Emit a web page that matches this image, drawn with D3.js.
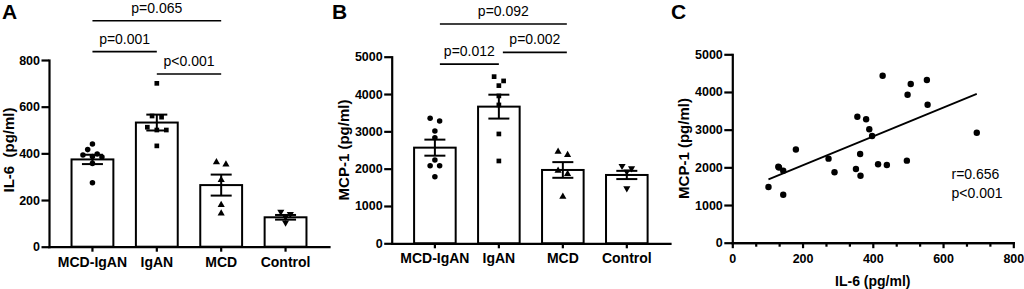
<!DOCTYPE html>
<html>
<head>
<meta charset="utf-8">
<script src="https://cdn.jsdelivr.net/npm/d3@7"></script>
<style>
  body { margin: 0; background: #fff; }
  svg { display: block; font-family: "Liberation Sans", Arial, Helvetica, sans-serif; }
</style>
</head>
<body>
<svg id="chart" width="1024" height="289"></svg>
<script>
const groups = ['MCD-IgAN', 'IgAN', 'MCD', 'Control'];
const markerShapes = ['circle', 'square', 'triangle', 'triangleDown'];

// Panel A - IL-6 (pg/ml)
const il6Points = [
  [440, 416, 397, 393, 386, 384, 357, 274],
  [700, 560, 555, 512, 500, 500, 432],
  [362, 353, 286, 179, 143],
  [150, 140, 128, 103]
];
const il6Mean = [374, 532, 264, 126];
const il6Sem = [20, 34, 45, 10];
const il6Ticks = [0, 200, 400, 600, 800];
const il6Pairs = [[0, 2], [0, 1], [1, 2]];
const il6PLabels = ['p=0.065', 'p=0.001', 'p<0.001'];

// Panel B - MCP-1 (pg/ml)
const mcpPoints = [
  [3351, 3279, 3011, 2831, 2233, 2080, 2080, 1786],
  [4466, 4351, 4225, 3949, 3708, 2930, 2206],
  [2456, 2367, 1946, 1858, 1249],
  [2072, 2010, 1920, 1474]
];
const mcpMean = [2563, 3662, 1965, 1831];
const mcpSem = [215, 320, 210, 110];
const mcpTicks = [0, 1000, 2000, 3000, 4000, 5000];
const mcpPairs = [[0, 2], [0, 1], [1, 2]];
const mcpPLabels = ['p=0.092', 'p=0.012', 'p=0.002'];

// Panel C - correlation
const corrIl6 = [428, 508, 554, 499, 556, 356, 381, 390, 398, 696, 181, 274,
                 131, 133, 145, 364, 291, 352, 365, 415, 440, 497, 103, 145];
const corrMcp = [4432, 4212, 4318, 3928, 3662, 3344, 3275, 3010, 2832, 2919, 2474, 2230,
                 2017, 1995, 1911, 2354, 1868, 1956, 1778, 2081, 2062, 2177, 1478, 1274];
const fitIl6 = [103, 696];
const fitMcp = [1680, 3950];
const corrXTicks = [0, 200, 400, 600, 800];
const corrYTicks = [0, 1000, 2000, 3000, 4000, 5000];
const corrStats = ['r=0.656', 'p<0.001'];

const svg = d3.select('#chart');
const black = '#000';
const plain = d3.format('d');

function symbolPath(shape, size) {
  const type = { circle: d3.symbolCircle, square: d3.symbolSquare,
                 triangle: d3.symbolTriangle, triangleDown: d3.symbolTriangle }[shape];
  return d3.symbol().type(type).size(size)();
}

// spread points with similar values side by side
function swarm(vals, y, step) {
  const items = vals.map(v => ({ v, py: y(v) })).sort((a, b) => a.py - b.py);
  const rows = [];
  items.forEach(it => {
    const row = rows[rows.length - 1];
    if (row && it.py - row[0].py < 4.5) row.push(it);
    else rows.push([it]);
  });
  rows.forEach(row => row.forEach((it, k) => { it.dx = (k - (row.length - 1) / 2) * step; }));
  return items;
}

function styleAxis(g, fontSize) {
  g.select('.domain').attr('stroke', black).attr('stroke-width', 2.2).attr('stroke-linecap', 'square');
  g.selectAll('.tick line').attr('stroke', black).attr('stroke-width', 2.2);
  g.selectAll('.tick text')
    .attr('fill', black)
    .style('font-size', fontSize + 'px')
    .style('font-weight', 'bold');
}

function barPanel(opt) {
  const x = d3.scaleBand().domain(groups).range(opt.xRange).paddingInner(0.35).paddingOuter(0.35);
  const y = d3.scaleLinear().domain(opt.yDomain).range(opt.yRange);
  const g = svg.append('g');

  // bars
  g.selectAll('.bar')
    .data(groups)
    .enter()
    .append('rect')
    .attr('x', d => x(d))
    .attr('y', (d, i) => y(opt.mean[i]))
    .attr('width', x.bandwidth())
    .attr('height', (d, i) => y(0) - y(opt.mean[i]))
    .attr('fill', '#fff')
    .attr('stroke', black)
    .attr('stroke-width', 2);

  // error bars (mean +/- SEM)
  groups.forEach((grp, i) => {
    const cx = x(grp) + x.bandwidth() / 2;
    const lo = y(opt.mean[i] - opt.sem[i]);
    const hi = y(opt.mean[i] + opt.sem[i]);
    const eg = g.append('g').attr('stroke', black).attr('stroke-width', 2);
    eg.append('line').attr('x1', cx).attr('x2', cx).attr('y1', lo).attr('y2', hi);
    eg.append('line').attr('x1', cx - 10.5).attr('x2', cx + 10.5).attr('y1', lo).attr('y2', lo);
    eg.append('line').attr('x1', cx - 10.5).attr('x2', cx + 10.5).attr('y1', hi).attr('y2', hi);
  });

  // individual points
  groups.forEach((grp, i) => {
    const cx = x(grp) + x.bandwidth() / 2;
    const shape = markerShapes[i];
    const size = shape === 'circle' ? 24 : shape === 'square' ? 22 : 22;
    g.selectAll('.pt' + i)
      .data(swarm(opt.points[i], y, 9.5))
      .enter()
      .append('path')
      .attr('d', symbolPath(shape, size))
      .attr('transform', d => `translate(${cx + d.dx},${d.py})` + (shape === 'triangleDown' ? ' rotate(180)' : ''))
      .attr('fill', black);
  });

  // axes
  const yAxis = g.append('g')
    .attr('transform', `translate(${opt.xRange[0]},0)`)
    .call(d3.axisLeft(y).tickValues(opt.ticks).tickFormat(plain).tickSize(7.5).tickSizeOuter(0).tickPadding(1.5));
  styleAxis(yAxis, 12.5);

  const xAxis = g.append('g')
    .attr('transform', `translate(0,${y(0)})`)
    .call(d3.axisBottom(x).tickSize(5).tickSizeOuter(0).tickPadding(opt.xPad));
  styleAxis(xAxis, 14);

  // y label
  g.append('text')
    .attr('transform', `translate(${opt.yLabelX},${opt.yLabelY}) rotate(-90)`)
    .attr('text-anchor', 'middle')
    .style('font-size', '15px')
    .style('font-weight', 'bold')
    .style('white-space', 'pre')
    .text(opt.yLabel);

  // significance brackets
  opt.pairs.forEach((p, k) => {
    const x1 = x(groups[p[0]]) + x.bandwidth() / 2 + opt.bracketShift[k][0];
    const x2 = x(groups[p[1]]) + x.bandwidth() / 2 + opt.bracketShift[k][1];
    const ly = y(opt.levels[k]);
    g.append('line')
      .attr('x1', x1).attr('x2', x2).attr('y1', ly).attr('y2', ly)
      .attr('stroke', black).attr('stroke-width', 1.6);
    g.append('text')
      .attr('x', (x1 + x2) / 2)
      .attr('y', ly - 8)
      .attr('text-anchor', 'middle')
      .style('font-size', '14px')
      .text(opt.pLabels[k]);
  });

  // panel letter
  svg.append('text')
    .attr('x', opt.letterX).attr('y', 18.5)
    .style('font-size', '21px').style('font-weight', 'bold')
    .text(opt.letter);
}

barPanel({
  letter: 'A', letterX: 2,
  xRange: [49, 329], yRange: [246.7, 60], yDomain: [0, 800], ticks: il6Ticks,
  points: il6Points, mean: il6Mean, sem: il6Sem,
  pairs: il6Pairs, pLabels: il6PLabels, levels: [968, 836, 740],
  bracketShift: [[0, 0], [0, 0], [0, 0]],
  yLabel: 'IL-6  (pg/ml)', yLabelX: 13.5, yLabelY: 150, xPad: 5
});

barPanel({
  letter: 'B', letterX: 332,
  xRange: [391.7, 670], yRange: [243.3, 56.7], yDomain: [0, 5000], ticks: mcpTicks,
  points: mcpPoints, mean: mcpMean, sem: mcpSem,
  pairs: mcpPairs, pLabels: mcpPLabels, levels: [5877, 4802, 5117],
  bracketShift: [[5, 4], [5, 0], [4, 4]],
  yLabel: 'MCP-1 (pg/ml)', yLabelX: 348.5, yLabelY: 150, xPad: 5
});

// Panel C - scatter with linear fit
(function () {
  const x = d3.scaleLinear().domain([0, 800]).range([732.3, 1013.3]);
  const y = d3.scaleLinear().domain([0, 5000]).range([242.7, 54.3]);
  const g = svg.append('g');

  const minor = d3.range(0, 13).map(i => i * 800 / 12).filter((v, i) => i % 3 !== 0);
  const minorAxis = g.append('g')
    .attr('transform', `translate(0,${y(0)})`)
    .call(d3.axisBottom(x).tickValues(minor).tickSize(4).tickSizeOuter(0).tickFormat(''));
  styleAxis(minorAxis, 12);

  const xAxis = g.append('g')
    .attr('transform', `translate(0,${y(0)})`)
    .call(d3.axisBottom(x).tickValues(corrXTicks).tickFormat(plain).tickSize(5.5).tickSizeOuter(0).tickPadding(6));
  styleAxis(xAxis, 12.5);

  const yAxis = g.append('g')
    .attr('transform', `translate(${x(0)},0)`)
    .call(d3.axisLeft(y).tickValues(corrYTicks).tickFormat(plain).tickSize(8).tickSizeOuter(0).tickPadding(1.5));
  styleAxis(yAxis, 12.5);

  const line = d3.line().x(d => x(d[0])).y(d => y(d[1]));
  g.append('path')
    .attr('d', line(fitIl6.map((v, i) => [v, fitMcp[i]])))
    .attr('fill', 'none')
    .attr('stroke', black)
    .attr('stroke-width', 1.8);

  g.selectAll('.dot')
    .data(corrIl6)
    .enter()
    .append('circle')
    .attr('cx', d => x(d))
    .attr('cy', (d, i) => y(corrMcp[i]))
    .attr('r', 3.2)
    .attr('fill', black);

  corrStats.forEach((t, i) => {
    g.append('text')
      .attr('x', 951.5)
      .attr('y', 179 + i * 19.3)
      .style('font-size', '14px')
      .text(t);
  });

  g.append('text')
    .attr('x', (x(0) + x(800)) / 2)
    .attr('y', 286)
    .attr('text-anchor', 'middle')
    .style('font-size', '14px')
    .style('font-weight', 'bold')
    .text('IL-6 (pg/ml)');

  g.append('text')
    .attr('transform', `translate(688.5,148.5) rotate(-90)`)
    .attr('text-anchor', 'middle')
    .style('font-size', '15px')
    .style('font-weight', 'bold')
    .text('MCP-1 (pg/ml)');

  svg.append('text')
    .attr('x', 671).attr('y', 18.5)
    .style('font-size', '21px').style('font-weight', 'bold')
    .text('C');
})();
</script>
</body>
</html>
